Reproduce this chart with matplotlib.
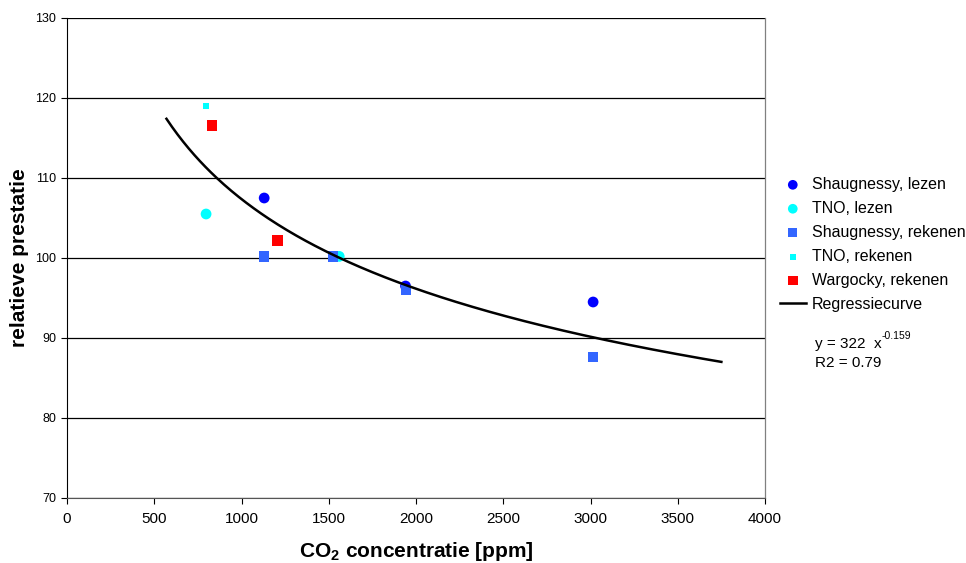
import numpy as np
import matplotlib
matplotlib.use("Agg")
import matplotlib.pyplot as plt

plt.rcParams['font.family'] = ['Liberation Sans', 'DejaVu Sans']
plt.rcParams['mathtext.fontset'] = 'custom'
plt.rcParams['mathtext.rm'] = 'Liberation Sans'
plt.rcParams['mathtext.bf'] = 'Liberation Sans:bold'

# Data
shaug_lezen_x = [1130, 1940, 3015]
shaug_lezen_y = [107.5, 96.5, 94.5]
tno_lezen_x = [797, 1560]
tno_lezen_y = [105.5, 100.2]
shaug_rekenen_x = [1130, 1525, 1943, 3015]
shaug_rekenen_y = [100.2, 100.2, 96.0, 87.6]
tno_rekenen_x = [797]
tno_rekenen_y = [119.0]
warg_rekenen_x = [831, 1205]
warg_rekenen_y = [116.6, 102.2]

# Regression: y = a * x^b
reg_a = 322
reg_b = -0.159
reg_xmin, reg_xmax = 570, 3750

fig = plt.figure(figsize=(9.66, 5.63), dpi=100)
ax = fig.add_axes([67/966, 1 - 498/563, (765-67)/966, (498-18)/563])

ax.set_xlim(0, 4000)
ax.set_ylim(70, 130)
ax.set_xticks(np.arange(0, 4001, 500))
ax.set_yticks(np.arange(70, 131, 10))
ax.yaxis.grid(True, color='black', linewidth=0.9)
ax.set_axisbelow(True)

ax.spines['top'].set_visible(False)
ax.spines['right'].set_color('#808080')
ax.spines['right'].set_linewidth(0.9)
ax.spines['left'].set_color('black')
ax.spines['bottom'].set_color('#555555')
ax.tick_params(direction='out', length=4, width=0.8, colors='black')
ax.tick_params(axis='x', labelsize=11, pad=6)
ax.tick_params(axis='y', labelsize=9, pad=4)

ax.scatter(shaug_lezen_x, shaug_lezen_y, marker='o', s=60, color='#0000FF', zorder=3,
           label='Shaugnessy, lezen', edgecolors='none')
ax.scatter(tno_lezen_x, tno_lezen_y, marker='o', s=60, color='#00FFFF', zorder=3,
           label='TNO, lezen', edgecolors='none')
ax.scatter(shaug_rekenen_x, shaug_rekenen_y, marker='s', s=55, color='#3366FF', zorder=3,
           label='Shaugnessy, rekenen', edgecolors='none')
ax.scatter(tno_rekenen_x, tno_rekenen_y, marker='s', s=22, color='#00FFFF', zorder=3,
           label='TNO, rekenen', edgecolors='none')
ax.scatter(warg_rekenen_x, warg_rekenen_y, marker='s', s=60, color='#FF0000', zorder=3,
           label='Wargocky, rekenen', edgecolors='none')

xr = np.linspace(reg_xmin, reg_xmax, 300)
ax.plot(xr, reg_a * xr ** reg_b, color='black', linewidth=1.8, zorder=4, label='Regressiecurve')

ax.set_xlabel('CO$_\\mathbf{2}$ concentratie [ppm]', fontsize=15, fontweight='bold')
ax.xaxis.set_label_coords(0.5, -(540 - 498) / 480)
ax.set_ylabel('relatieve prestatie', fontsize=15, fontweight='bold')
ax.yaxis.set_label_coords(-(67 - 29) / 698, 0.5)

leg = fig.legend(loc='upper left', bbox_to_anchor=(780/966, 1 - 177/563), frameon=False,
                 fontsize=11.5, handlelength=1.6, handletextpad=0.4, labelspacing=0.56,
                 borderaxespad=0, borderpad=0, markerscale=0.9)

fig.text(815/966, 1 - 348/563, 'y = 322  x', fontsize=11, va='baseline')
fig.text(882/966, 1 - 341/563, '-0.159', fontsize=7.5, va='bottom')
fig.text(815/966, 1 - 367/563, 'R2 = 0.79', fontsize=11, va='baseline')

fig.savefig('out.png', dpi=100)
